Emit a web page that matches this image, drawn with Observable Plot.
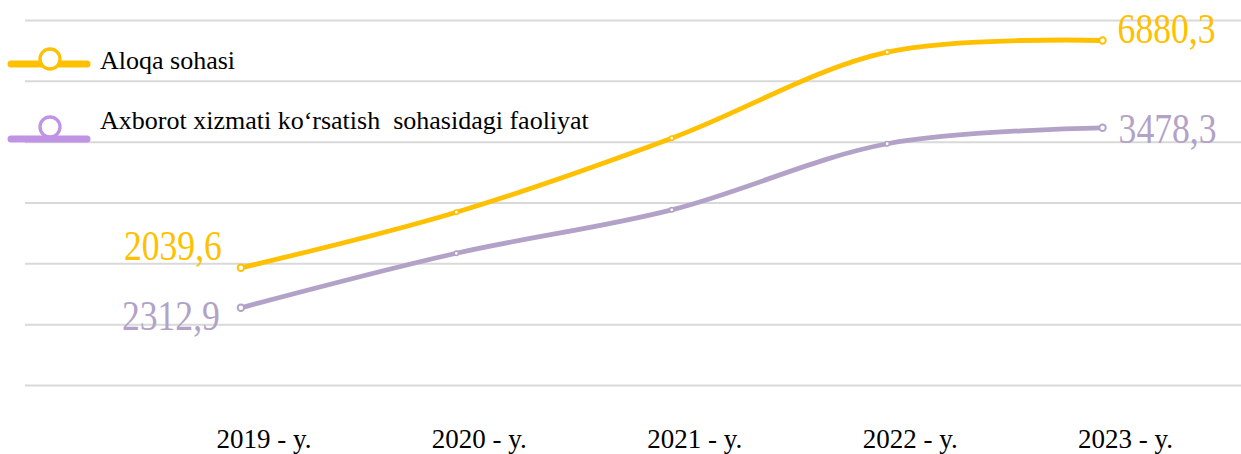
<!DOCTYPE html>
<html>
<head>
<meta charset="utf-8">
<script src="https://cdn.jsdelivr.net/npm/d3@7"></script>
<script src="https://cdn.jsdelivr.net/npm/@observablehq/plot@0.6"></script>
<style>
  html, body { margin: 0; padding: 0; background: #fff; }
  #chart { width: 1241px; height: 454px; }
  g[aria-label="x-axis tick label"] text { font-size: 27px; }
</style>
</head>
<body>
<div id="chart"></div>
<script>
// ---- data ----
const years = [2019, 2020, 2021, 2022, 2023];
const tickLabels = ["2019 - y.", "2020 - y.", "2021 - y.", "2022 - y.", "2023 - y."];
const seriesNames = ["Aloqa sohasi", "Axborot xizmati ko‘rsatish  sohasidagi faoliyat"];
const aloqa = [2039.6, 3224, 4800, 6631, 6880.3];     // primary axis
const axborot = [2312.9, 2666, 2947, 3375, 3478.3];   // secondary axis
const lineColors = ["#FFC000", "#B3A2C7"];
const legendColors = ["#FFC000", "#BF94E4"];
const primaryDomain = [-467, 7306];
const secondaryDomain = [1810, 4173];
const xDomain = [2018.0, 2023.645];

// secondary axis mapped onto primary (dual-axis chart)
const toPrimary = d3.scaleLinear().domain(secondaryDomain).range(primaryDomain);

const rows = [];
years.forEach((yr, i) => {
  rows.push({year: yr, i, series: seriesNames[0], value: aloqa[i], plotted: aloqa[i]});
  rows.push({year: yr, i, series: seriesNames[1], value: axborot[i], plotted: toPrimary(axborot[i])});
});
const last = years.length - 1;
const fmt = v => v.toFixed(1).replace(".", ",");
const gridValues = d3.range(7).map(k => primaryDomain[0] + k * (primaryDomain[1] - primaryDomain[0]) / 6);

const isEnd = d => d.i === 0 || d.i === last;
const labelMark = (series, idx, opts) => Plot.text(rows.filter(d => d.series === seriesNames[series] && d.i === idx), {
  x: "year", y: "plotted", text: d => fmt(d.value), fill: lineColors[series],
  fontSize: 42, fontFamily: "Liberation Serif", ...opts
});

const chart = Plot.plot({
  width: 1241,
  height: 454,
  marginLeft: 25,
  marginRight: 0,
  marginTop: 20,
  marginBottom: 69,
  style: {background: "#fff", fontFamily: "Liberation Serif", color: "#000"},
  x: {type: "linear", domain: xDomain, label: null},
  y: {domain: primaryDomain, axis: null},
  color: {domain: seriesNames, range: lineColors},
  marks: [
    Plot.ruleY(gridValues, {stroke: "#D9D9D9", strokeWidth: 2}),
    Plot.axisX(years, {tickSize: 0, tickPadding: 43, dx: 23, fontSize: 27, label: null,
      tickFormat: d => tickLabels[years.indexOf(d)], fill: "#000"}),
    Plot.line(rows, {x: "year", y: "plotted", z: "series", stroke: "series", strokeWidth: 4.8,
      curve: "catmull-rom", strokeLinecap: "round"}),
    Plot.dot(rows.filter(d => !isEnd(d)), {x: "year", y: "plotted", stroke: "series", fill: "#fff", r: 2.2, strokeWidth: 1.6}),
    Plot.dot(rows.filter(isEnd), {x: "year", y: "plotted", stroke: "series", fill: "#fff", r: 3.2, strokeWidth: 2}),
    labelMark(0, 0, {textAnchor: "end", dx: -19, dy: -21}),
    labelMark(1, 0, {textAnchor: "end", dx: -21, dy: 9}),
    labelMark(0, last, {textAnchor: "start", dx: 15, dy: -11}),
    labelMark(1, last, {textAnchor: "start", dx: 16, dy: 2})
  ]
});

// condense the value labels
d3.select(chart).selectAll("text").each(function() {
  if (/^\d+,\d$/.test(this.textContent)) {
    this.setAttribute("textLength", "98");
    this.setAttribute("lengthAdjust", "spacingAndGlyphs");
  }
});

// legend inside the plot area (top-left)
const lg = d3.select(chart).append("g").attr("aria-label", "legend").attr("text-anchor", "start");
const legendRows = [
  {name: seriesNames[0], color: legendColors[0], lineY: 64, circleY: 59, textY: 69},
  {name: seriesNames[1], color: legendColors[1], lineY: 139, circleY: 127, textY: 129}
];
legendRows.forEach(r => {
  lg.append("line").attr("x1", 11).attr("x2", 87).attr("y1", r.lineY).attr("y2", r.lineY)
    .attr("stroke", r.color).attr("stroke-width", 7).attr("stroke-linecap", "round");
  lg.append("circle").attr("cx", 50).attr("cy", r.circleY).attr("r", 10)
    .attr("fill", "#fff").attr("stroke", r.color).attr("stroke-width", 3.3);
  lg.append("text").attr("x", 100).attr("y", r.textY).text(r.name)
    .attr("text-anchor", "start")
    .attr("font-family", "Liberation Serif").attr("font-size", 26).attr("fill", "#000")
    .style("white-space", "pre");
});

document.getElementById("chart").appendChild(chart);
</script>
</body>
</html>
